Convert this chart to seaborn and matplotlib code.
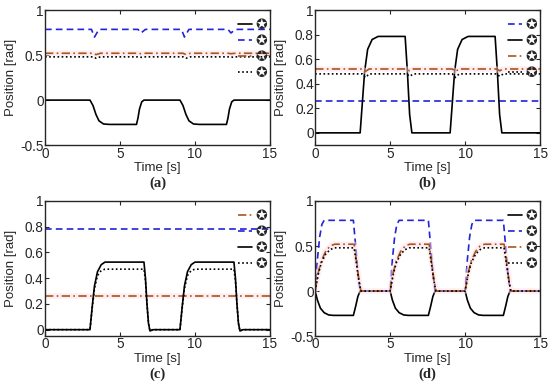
import numpy as np
import pandas as pd
import matplotlib
matplotlib.use("Agg")
import matplotlib.pyplot as plt
import seaborn as sns

# ---- data ----
# panel (a)
a_solid_t = [0, 3.0, 3.2, 3.4, 3.6, 3.9, 4.3, 6.1, 6.2, 6.3, 6.45, 6.6, 9.0, 9.2, 9.4, 9.6, 9.9, 10.3, 12.1, 12.2, 12.3, 12.45, 12.6, 15]
a_solid_v = [0, 0, -0.06, -0.16, -0.23, -0.265, -0.27, -0.27, -0.2, -0.1, -0.02, 0, 0, -0.06, -0.16, -0.23, -0.265, -0.27, -0.27, -0.2, -0.1, -0.02, 0, 0]
a_dash_t = [0, 3.1, 3.3, 3.6, 6.2, 6.4, 6.7, 9.1, 9.3, 9.6, 12.2, 12.4, 12.7, 15]
a_dash_v = [0.785, 0.785, 0.70, 0.785, 0.785, 0.745, 0.785, 0.785, 0.70, 0.785, 0.785, 0.745, 0.785, 0.785]
a_dashdot_t = [0, 3.2, 3.4, 3.7, 6.2, 6.4, 6.7, 9.2, 9.4, 9.7, 12.2, 12.4, 12.7, 15]
a_dashdot_v = [0.52, 0.52, 0.505, 0.52, 0.52, 0.515, 0.52, 0.52, 0.505, 0.52, 0.52, 0.515, 0.52, 0.52]
a_dot_t = [0, 3.2, 3.4, 3.7, 6.2, 6.4, 6.7, 9.2, 9.4, 9.7, 12.2, 12.4, 12.7, 15]
a_dot_v = [0.48, 0.48, 0.465, 0.48, 0.48, 0.475, 0.48, 0.48, 0.465, 0.48, 0.48, 0.475, 0.48, 0.48]

# panel (b)
b_dash_t = [0, 15]
b_dash_v = [0.26, 0.26]
b_solid_t = [0, 3.0, 3.15, 3.3, 3.5, 3.8, 4.2, 6.0, 6.15, 6.3, 6.45, 9.0, 9.15, 9.3, 9.5, 9.8, 10.2, 12.0, 12.15, 12.3, 12.45, 15]
b_solid_v = [0, 0, 0.25, 0.5, 0.68, 0.76, 0.785, 0.785, 0.5, 0.15, 0, 0, 0.25, 0.5, 0.68, 0.76, 0.785, 0.785, 0.5, 0.15, 0, 0]
b_dashdot_t = [0, 3.15, 3.35, 3.6, 6.1, 6.3, 6.55, 9.15, 9.35, 9.6, 12.1, 12.3, 12.55, 15]
b_dashdot_v = [0.52, 0.52, 0.50, 0.52, 0.52, 0.505, 0.52, 0.52, 0.50, 0.52, 0.52, 0.505, 0.52, 0.52]
b_dot_t = [0, 3.15, 3.35, 3.6, 6.1, 6.3, 6.55, 9.15, 9.35, 9.6, 12.1, 12.3, 12.55, 15]
b_dot_v = [0.48, 0.48, 0.45, 0.48, 0.48, 0.46, 0.48, 0.48, 0.45, 0.48, 0.48, 0.46, 0.48, 0.48]

# panel (c)
c_dashdot_t = [0, 15]
c_dashdot_v = [0.26, 0.26]
c_dash_t = [0, 15]
c_dash_v = [0.785, 0.785]
c_solid_t = [0, 3.0, 3.15, 3.3, 3.5, 3.75, 4.0, 6.6, 6.7, 6.8, 6.9, 7.0, 7.2, 9.0, 9.15, 9.3, 9.5, 9.75, 10.0, 12.6, 12.7, 12.8, 12.9, 13.0, 13.2, 15]
c_solid_v = [0, 0, 0.18, 0.34, 0.45, 0.505, 0.525, 0.525, 0.4, 0.2, 0.05, -0.01, 0, 0, 0.18, 0.34, 0.45, 0.505, 0.525, 0.525, 0.4, 0.2, 0.05, -0.01, 0, 0]
c_dot_t = [0, 3.0, 3.15, 3.3, 3.5, 3.75, 4.0, 6.6, 6.7, 6.8, 6.9, 7.0, 7.2, 9.0, 9.15, 9.3, 9.5, 9.75, 10.0, 12.6, 12.7, 12.8, 12.9, 13.0, 13.2, 15]
c_dot_v = [0, 0, 0.17, 0.32, 0.42, 0.46, 0.47, 0.47, 0.38, 0.2, 0.05, -0.01, 0, 0, 0.17, 0.32, 0.42, 0.46, 0.47, 0.47, 0.38, 0.2, 0.05, -0.01, 0, 0]

# panel (d)
d_solid_t = [0, 0.15, 0.35, 0.6, 0.9, 1.2, 2.55, 2.7, 2.85, 3.0,
             5.0, 5.15, 5.35, 5.6, 5.9, 6.2, 7.55, 7.7, 7.85, 8.0,
             10.0, 10.15, 10.35, 10.6, 10.9, 11.2, 12.55, 12.7, 12.85, 13.0, 15]
d_solid_v = [0, -0.1, -0.19, -0.24, -0.265, -0.27, -0.27, -0.17, -0.06, 0,
             0, -0.1, -0.19, -0.24, -0.265, -0.27, -0.27, -0.17, -0.06, 0,
             0, -0.1, -0.19, -0.24, -0.265, -0.27, -0.27, -0.17, -0.06, 0, 0]
d_dash_t = [0, 0.15, 0.3, 0.45, 0.6, 2.55, 2.7, 2.85, 3.0,
            5.0, 5.15, 5.3, 5.45, 5.6, 7.55, 7.7, 7.85, 8.0,
            10.0, 10.15, 10.3, 10.45, 10.6, 12.55, 12.7, 12.85, 13.0, 15]
d_dash_v = [0, 0.35, 0.6, 0.74, 0.785, 0.785, 0.5, 0.2, 0,
            0, 0.35, 0.6, 0.74, 0.785, 0.785, 0.5, 0.2, 0,
            0, 0.35, 0.6, 0.74, 0.785, 0.785, 0.5, 0.2, 0, 0]
d_dashdot_t = [0, 0.2, 0.4, 0.7, 1.0, 1.3, 2.6, 2.75, 2.9, 3.05,
               5.0, 5.2, 5.4, 5.7, 6.0, 6.3, 7.6, 7.75, 7.9, 8.05,
               10.0, 10.2, 10.4, 10.7, 11.0, 11.3, 12.6, 12.75, 12.9, 13.05, 15]
d_dashdot_v = [0, 0.2, 0.33, 0.44, 0.5, 0.52, 0.52, 0.34, 0.15, 0,
               0, 0.2, 0.33, 0.44, 0.5, 0.52, 0.52, 0.34, 0.15, 0,
               0, 0.2, 0.33, 0.44, 0.5, 0.52, 0.52, 0.34, 0.15, 0, 0]
d_dot_t = d_dashdot_t
d_dot_v = [0, 0.18, 0.31, 0.41, 0.46, 0.48, 0.48, 0.31, 0.13, 0,
           0, 0.18, 0.31, 0.41, 0.46, 0.48, 0.48, 0.31, 0.13, 0,
           0, 0.18, 0.31, 0.41, 0.46, 0.48, 0.48, 0.31, 0.13, 0, 0]

star = "\u272a"

# line styles for the 4 signal kinds
BLUE = "#2323d8"
BROWN = "#a8561f"
styles = {
    "solid": dict(color="black", linestyle="-"),
    "dash": dict(color=BLUE, linestyle=(0, (4, 2.5))),
    "dashdot": dict(color=BROWN, linestyle=(0, (5, 2, 1, 2))),
    "dot": dict(color="black", linestyle=(0, (1, 1.5))),
}

panels = [
    dict(label="(a)", ylim=(-0.5, 1), yticks=[-0.5, 0, 0.5, 1], pos=[0.0818, 0.623, 0.409, 0.351],
         series=[("solid", a_solid_t, a_solid_v), ("dash", a_dash_t, a_dash_v),
                 ("dashdot", a_dashdot_t, a_dashdot_v), ("dot", a_dot_t, a_dot_v)]),
    dict(label="(b)", ylim=(-0.1, 1), yticks=[0, 0.2, 0.4, 0.6, 0.8, 1], pos=[0.573, 0.623, 0.409, 0.351],
         series=[("dash", b_dash_t, b_dash_v), ("solid", b_solid_t, b_solid_v),
                 ("dashdot", b_dashdot_t, b_dashdot_v), ("dot", b_dot_t, b_dot_v)]),
    dict(label="(c)", ylim=(-0.05, 1), yticks=[0, 0.2, 0.4, 0.6, 0.8, 1], pos=[0.0818, 0.127, 0.409, 0.351],
         series=[("dashdot", c_dashdot_t, c_dashdot_v), ("dash", c_dash_t, c_dash_v),
                 ("solid", c_solid_t, c_solid_v), ("dot", c_dot_t, c_dot_v)]),
    dict(label="(d)", ylim=(-0.5, 1), yticks=[-0.5, 0, 0.5, 1], pos=[0.573, 0.127, 0.409, 0.351],
         series=[("solid", d_solid_t, d_solid_v), ("dash", d_dash_t, d_dash_v),
                 ("dashdot", d_dashdot_t, d_dashdot_v), ("dot", d_dot_t, d_dot_v)]),
]

sns.set_style("ticks")
plt.rcParams["font.family"] = ["Liberation Sans", "DejaVu Sans"]
plt.rcParams["xtick.direction"] = "in"
plt.rcParams["ytick.direction"] = "in"

fig = plt.figure(figsize=(5.5, 3.85), dpi=100)

for p in panels:
    ax = fig.add_axes(p["pos"])
    for kind, t, v in p["series"]:
        if kind == "dashdot":
            # faint pink halo seen around the dash-dot traces
            sns.lineplot(x=t, y=v, ax=ax, estimator=None, sort=False, color="#ffdde6",
                         linewidth=4, alpha=0.5, legend=False)
        sns.lineplot(x=t, y=v, ax=ax, estimator=None, sort=False, linewidth=1.2,
                     label=star, **styles[kind])
    ax.set_xlim(0, 15)
    ax.set_ylim(*p["ylim"])
    ax.set_xticks([0, 5, 10, 15])
    ax.set_yticks(p["yticks"])
    ax.set_yticklabels([("%g" % y) for y in p["yticks"]])
    ax.tick_params(labelsize=9.8, length=3, width=0.8, top=True, right=True, pad=1)
    for s in ax.spines.values():
        s.set_linewidth(1.0)
    ax.set_xlabel("Time [s]", fontsize=9.5, labelpad=1)
    ax.set_ylabel("Position [rad]", fontsize=9.5)
    ax.yaxis.set_label_coords(-0.125, 0.5)
    ax.legend(loc="upper right", bbox_to_anchor=(1.01, 0.985), frameon=False,
              handlelength=1.0, handletextpad=0.25, labelspacing=0.15,
              borderaxespad=0, prop={"family": "DejaVu Sans", "size": 10})
    ax.text(0.5, -0.28, p["label"], transform=ax.transAxes, ha="center", va="center",
            fontsize=10.5, fontweight="bold", family="Liberation Serif")

fig.savefig("out.png", dpi=100)
